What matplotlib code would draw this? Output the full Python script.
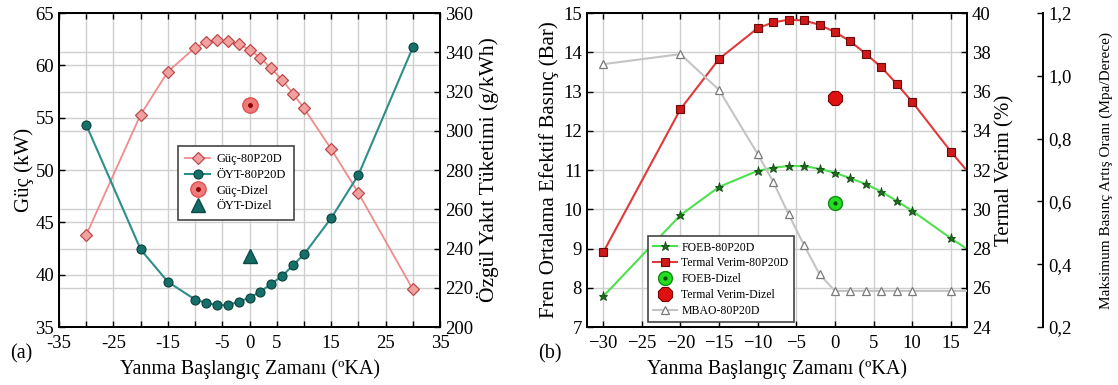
import numpy as np
import matplotlib
matplotlib.use("Agg")
import matplotlib.pyplot as plt
from matplotlib.ticker import FuncFormatter

plt.rcParams['font.family'] = ['Liberation Serif', 'DejaVu Serif']

# (a) power and specific fuel consumption vs. injection timing
aci_a = [-30, -20, -15, -10, -8, -6, -4, -2, 0, 2, 4, 6, 8, 10, 15, 20, 30]
guc_80p20d = [43.8, 55.3, 59.4, 61.7, 62.2, 62.4, 62.3, 62.0, 61.5, 60.7,
              59.7, 58.6, 57.3, 55.9, 52.0, 47.8, 38.6]
oyt_80p20d = [303, 239.5, 223, 214, 212.3, 211.2, 211.2, 212.8, 215, 218,
              222, 226, 231.5, 237, 255.5, 277.5, 342.5]
guc_dizel = 56.2
oyt_dizel = 236.3

# (b) BMEP, thermal efficiency and max. pressure rise rate
aci_b = [-30, -20, -15, -10, -8, -6, -4, -2, 0, 2, 4, 6, 8, 10, 15, 20]
foeb_80p20d = [7.78, 9.85, 10.57, 10.98, 11.06, 11.10, 11.10, 11.03, 10.93,
               10.79, 10.64, 10.45, 10.21, 9.96, 9.26, 8.61]
termal_80p20d = [27.8, 35.1, 37.66, 39.23, 39.52, 39.66, 39.62, 39.40, 39.03,
                 38.55, 37.92, 37.24, 36.39, 35.47, 32.94, 30.6]
mbao_80p20d = [1.037, 1.069, 0.955, 0.751, 0.663, 0.559, 0.461, 0.368, 0.315,
               0.315, 0.315, 0.315, 0.315, 0.315, 0.315, 0.315]
foeb_dizel = 10.17
termal_dizel = 35.66

fig = plt.figure(figsize=(11.18, 3.85), dpi=100)
TFS = 13.5   # tick labels
XFS = 14.5   # x labels
YFS = 15     # y labels
tick_kw = dict(direction='in', labelsize=TFS, width=1.0, length=4)

# ---------------- panel (a) ----------------
ax1 = fig.add_axes([0.0528, 0.1506, 0.3408, 0.8156])
ax1r = ax1.twinx()

ax1.set_xlim(-35, 35)
ax1.set_ylim(35, 65)
ax1r.set_ylim(200, 360)
ax1.set_xticks(np.arange(-35, 36, 5))
ax1.set_xticklabels(['' if v in (-30, -20, -10, 10, 20, 30) else str(v)
                     for v in range(-35, 36, 5)])
ax1.set_yticks(np.arange(35, 66, 5))
ax1r.set_yticks(np.arange(200, 361, 20))

# right-axis grid lines drawn on the left axes so they stay under the curves
r_ticks = np.arange(200, 361, 20)
lo, hi = ax1.get_ylim()
rlo, rhi = ax1r.get_ylim()
ax1.set_yticks(lo + (r_ticks - rlo) * (hi - lo) / (rhi - rlo), minor=True)
ax1.grid(True, which='both', color='#cfcfcf', linewidth=1.0)
ax1.tick_params(axis='both', which='major', top=True, **tick_kw)
ax1.tick_params(axis='x', pad=6)
ax1.tick_params(axis='y', which='minor', length=0)
ax1r.tick_params(axis='y', **tick_kw)

l1, = ax1.plot(aci_a, guc_80p20d, color='#f08c8c', lw=1.3, marker='D', ms=6,
               mfc='#f2a0a0', mec='#b84a4a', mew=0.9, label='Güç-80P20D')
l2, = ax1r.plot(aci_a, oyt_80p20d, color='#2e8f8a', lw=1.5, marker='o', ms=6.5,
                mfc='#16706a', mec='#0b3f3c', mew=0.8, label='ÖYT-80P20D')
d1a, = ax1.plot([0], [guc_dizel], ls='none', marker='o', ms=11,
                mfc='#f07a7a', mec='#e05050', mew=1.0)
d1b, = ax1.plot([0], [guc_dizel], ls='none', marker='o', ms=2.5,
                mfc='#8a0000', mec='#8a0000')
d2, = ax1r.plot([0], [oyt_dizel], ls='none', marker='^', ms=10,
                mfc='#146b66', mec='#0b4a46')

ax1.set_ylabel('Güç (kW)', fontsize=YFS, labelpad=1)
ax1r.set_ylabel('Özgül Yakıt Tüketimi (g/kWh)', fontsize=15.5, labelpad=3)
ax1.set_xlabel('Yanma Başlangıç Zamanı (ºKA)', fontsize=XFS, labelpad=5)

leg1 = ax1r.legend([l1, l2, (d1a, d1b), d2],
                   ['Güç-80P20D', 'ÖYT-80P20D', 'Güç-Dizel', 'ÖYT-Dizel'],
                   loc='lower left', bbox_to_anchor=(0.312, 0.341),
                   borderaxespad=0, fontsize=9, fancybox=False,
                   framealpha=1, edgecolor='#444444', labelspacing=0.3,
                   handlelength=2.0, handletextpad=0.5, borderpad=0.6)
leg1.get_frame().set_linewidth(1.2)

# ---------------- panel (b) ----------------
ax2 = fig.add_axes([0.525, 0.1506, 0.340, 0.8156])
ax2r = ax2.twinx()
ax3 = ax2.twinx()

ax2.set_xlim(-32.1, 17.1)
ax2.set_ylim(7, 15)
ax2r.set_ylim(24, 40)
ax3.set_ylim(0.2, 1.2)
ax2.set_xticks(np.arange(-30, 16, 5))
ax2.set_yticks(np.arange(7, 16, 1))
ax2r.set_yticks(np.arange(24, 41, 2))
ax3.set_yticks(np.arange(0.2, 1.21, 0.2))
ax3.yaxis.set_major_formatter(FuncFormatter(lambda v, p: f'{v:.1f}'.replace('.', ',')))

ax2.grid(True, color='#cfcfcf', linewidth=1.0)
ax2.tick_params(axis='both', top=True, **tick_kw)
ax2.tick_params(axis='x', pad=6)
ax2r.tick_params(axis='y', **tick_kw)
ax3.tick_params(axis='y', **tick_kw)

ax3.spines['right'].set_position(('axes', 1.2))
for s in ('top', 'bottom', 'left'):
    ax3.spines[s].set_visible(False)

g1, = ax2.plot(aci_b, foeb_80p20d, color='#4ee04e', lw=1.5, marker='*', ms=6.5,
               mfc='#1f6b1f', mec='#124a12', mew=0.6, label='FOEB-80P20D')
r1, = ax2r.plot(aci_b, termal_80p20d, color='#e03a3a', lw=1.5, marker='s', ms=6,
                mfc='#d01818', mec='#6a0a0a', mew=0.8, label='Termal Verim-80P20D')
m1, = ax3.plot(aci_b, mbao_80p20d, color='#c4c4c4', lw=1.5, marker='^', ms=6,
               mfc='white', mec='#7a7a7a', mew=0.9, label='MBAO-80P20D')
gd_a, = ax2.plot([0], [foeb_dizel], ls='none', marker='o', ms=10,
                 mfc='#22dd22', mec='#138a13', mew=1.0)
gd_b, = ax2.plot([0], [foeb_dizel], ls='none', marker='o', ms=2,
                 mfc='#0a4a0a', mec='#0a4a0a')
rd, = ax2r.plot([0], [termal_dizel], ls='none', marker='8', ms=10.5,
                mfc='#e01010', mec='#7a0000', mew=0.8)

ax2.set_ylabel('Fren Ortalama Efektif Basınç (Bar)', fontsize=YFS, labelpad=3)
ax2r.set_ylabel('Termal Verim (%)', fontsize=YFS, labelpad=3)
ax3.set_ylabel('Maksimum Basınç Artış Oranı (Mpa/Derece)', fontsize=11, labelpad=20)
ax2.set_xlabel('Yanma Başlangıç Zamanı (ºKA)', fontsize=XFS, labelpad=5)

leg2 = ax3.legend([g1, r1, (gd_a, gd_b), rd, m1],
                  ['FOEB-80P20D', 'Termal Verim-80P20D', 'FOEB-Dizel',
                   'Termal Verim-Dizel', 'MBAO-80P20D'],
                  loc='lower left', bbox_to_anchor=(0.16, 0.016),
                  borderaxespad=0, fontsize=8.5, fancybox=False,
                  framealpha=1, edgecolor='#444444', labelspacing=0.32,
                  handlelength=2.0, handletextpad=0.4, borderpad=0.45)
leg2.get_frame().set_linewidth(1.2)

for ax in (ax1, ax1r, ax2, ax2r, ax3):
    for sp in ax.spines.values():
        sp.set_linewidth(1.4)

fig.text(0.009, 0.07, '(a)', fontsize=XFS)
fig.text(0.481, 0.07, '(b)', fontsize=XFS)

fig.savefig('out.png', dpi=100)
